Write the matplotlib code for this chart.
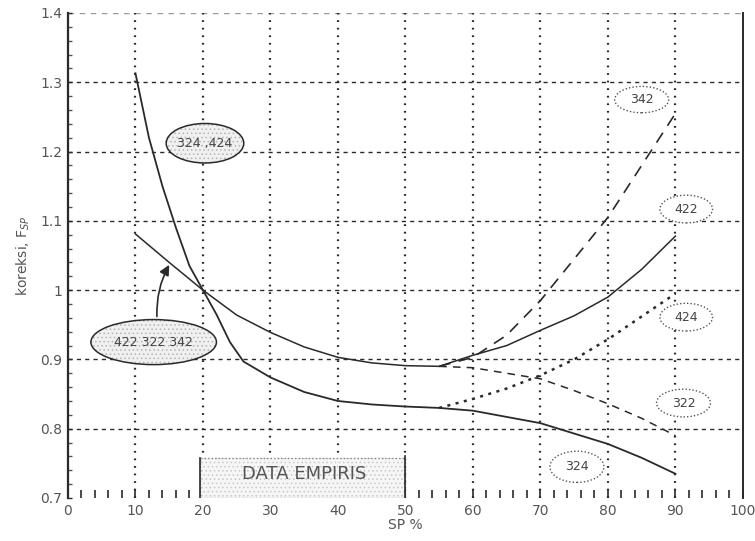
import matplotlib
matplotlib.use("Agg")
import matplotlib.pyplot as plt
from matplotlib.patches import Ellipse, Rectangle, FancyArrowPatch

plt.rcParams["hatch.linewidth"] = 0.6

# ---- data ----
x_324 = [10, 12, 14, 16, 18, 20, 22, 24, 26, 30, 35, 40, 45, 50, 55, 60, 65, 70, 75, 80, 85, 90]
y_324 = [1.313, 1.22, 1.15, 1.09, 1.035, 1.0, 0.965, 0.925, 0.897, 0.874, 0.853, 0.840, 0.835,
         0.832, 0.830, 0.826, 0.817, 0.808, 0.793, 0.778, 0.758, 0.735]
x_424 = [55, 60, 65, 70, 75, 80, 85, 90]
y_424 = [0.830, 0.843, 0.858, 0.877, 0.900, 0.929, 0.962, 0.995]
x_422 = [10, 15, 20, 25, 30, 35, 40, 45, 50, 55, 60, 65, 70, 75, 80, 85, 90]
y_422 = [1.081, 1.04, 1.0, 0.964, 0.939, 0.918, 0.903, 0.895, 0.891, 0.890,
         0.906, 0.920, 0.942, 0.963, 0.990, 1.030, 1.078]
x_342 = [55, 60, 65, 70, 75, 80, 85, 90]
y_342 = [0.890, 0.903, 0.935, 0.985, 1.045, 1.105, 1.18, 1.255]
x_322 = [55, 60, 65, 70, 75, 80, 85, 90]
y_322 = [0.890, 0.888, 0.880, 0.872, 0.855, 0.836, 0.815, 0.790]

x_ticks = [0, 10, 20, 30, 40, 50, 60, 70, 80, 90, 100]
y_ticks = [0.7, 0.8, 0.9, 1.0, 1.1, 1.2, 1.3, 1.4]
y_ticklabels = ["0.7", "0.8", "0.9", "1", "1.1", "1.2", "1.3", "1.4"]

ink = "#2a2a2a"
fig = plt.figure(figsize=(7.55, 5.41), dpi=100)
ax = fig.add_axes([0.090, 0.0795, 0.894, 0.8965])
ax.set_xlim(0, 100)
ax.set_ylim(0.7, 1.4)

# grid
for yv in y_ticks[1:-1]:
    ax.plot([0, 100], [yv, yv], color=ink, lw=1.0, dashes=(3, 3), zorder=1)
ax.plot([0, 100], [1.4, 1.4], color="#999999", lw=1.0, dashes=(4, 4), zorder=1)
for xv in x_ticks[1:-1]:
    ax.plot([xv, xv], [0.7, 1.4], color=ink, lw=1.6, dashes=(0.8, 2.6), zorder=1)

# curves
ax.plot(x_324, y_324, color=ink, lw=1.3, zorder=3)
ax.plot(x_424, y_424, color=ink, lw=1.8, dashes=(1.2, 2.2), zorder=3)
ax.plot(x_422, y_422, color=ink, lw=1.1, zorder=3)
ax.plot(x_342, y_342, color=ink, lw=1.2, dashes=(7, 5), zorder=3)
ax.plot(x_322, y_322, color=ink, lw=1.1, dashes=(5, 4), zorder=3)

# label ellipses
def ell(cx, cy, w, h, text, filled=False, fs=9):
    if filled:
        ax.add_patch(Ellipse((cx, cy), w, h, facecolor="#f0f0f0", edgecolor="#b5b5b5",
                             lw=0, hatch="....", zorder=4))
        ax.add_patch(Ellipse((cx, cy), w, h, facecolor="none", edgecolor=ink, lw=1.1,
                             zorder=4))
    else:
        ax.add_patch(Ellipse((cx, cy), w, h, facecolor="white", edgecolor="#555555", lw=1.0,
                             linestyle=(0, (1, 1.5)), zorder=4))
    ax.text(cx, cy, text, ha="center", va="center", fontsize=fs, color="#444444", zorder=5)

ell(20.3, 1.212, 11.5, 0.057, "324 ,424", filled=True)
ell(12.7, 0.925, 18.6, 0.065, "422 322 342", filled=True)
ell(85.0, 1.275, 8.0, 0.038, "342")
ell(91.6, 1.117, 7.8, 0.040, "422")
ell(91.6, 0.961, 7.8, 0.040, "424")
ell(91.2, 0.837, 8.0, 0.040, "322")
ell(75.4, 0.745, 8.0, 0.045, "324")

arr = FancyArrowPatch((13.2, 0.958), (15.2, 1.04), connectionstyle="arc3,rad=-0.15",
                      arrowstyle="-|>,head_length=6,head_width=3", color=ink, lw=1.2, zorder=4)
ax.add_patch(arr)

# DATA EMPIRIS box
ax.add_patch(Rectangle((19.5, 0.7), 30.5, 0.058, facecolor="#f6f6f6", edgecolor="#c8c8c8",
                       lw=0, hatch="....", zorder=2))
ax.add_patch(Rectangle((19.5, 0.7), 30.5, 0.058, facecolor="none", edgecolor="#888888",
                       lw=1.0, linestyle=(0, (1, 1.5)), zorder=2))
ax.plot([19.5, 19.5], [0.7, 0.758], color=ink, lw=1.2, zorder=3)
ax.plot([50, 50], [0.7, 0.76], color=ink, lw=1.2, zorder=3)
ax.text(35, 0.735, "DATA EMPIRIS", ha="center", va="center", fontsize=13,
        color="#555555", zorder=5)

# spines & ticks
for s in ["top", "bottom"]:
    ax.spines[s].set_visible(False)
ax.spines["left"].set_color(ink)
ax.spines["left"].set_linewidth(1.6)
ax.spines["right"].set_color(ink)
ax.spines["right"].set_linewidth(1.4)
ax.set_xticks(x_ticks)
ax.set_xticklabels([str(v) for v in x_ticks])
ax.set_yticks(y_ticks)
ax.set_yticklabels(y_ticklabels)
ax.set_xticks([v for v in range(2, 100, 2) if v % 10], minor=True)
ax.set_yticks([0.72 + 0.02 * i for i in range(34) if (i + 1) % 5], minor=True)
ax.tick_params(axis="x", which="both", direction="in", length=6, width=1.2, colors=ink,
               labelcolor="#555555", labelsize=10, pad=4)
ax.tick_params(axis="y", which="major", direction="in", length=3, width=1.0, colors=ink,
               labelcolor="#555555", labelsize=10, pad=4)
ax.tick_params(axis="y", which="minor", direction="in", length=3, width=1.0, colors="#555555")

ax.set_xlabel("SP %", fontsize=10, color="#555555", labelpad=0)
ax.set_ylabel("koreksi, F$_{SP}$", fontsize=10, color="#555555", labelpad=6)

fig.savefig("out.png", dpi=100)
